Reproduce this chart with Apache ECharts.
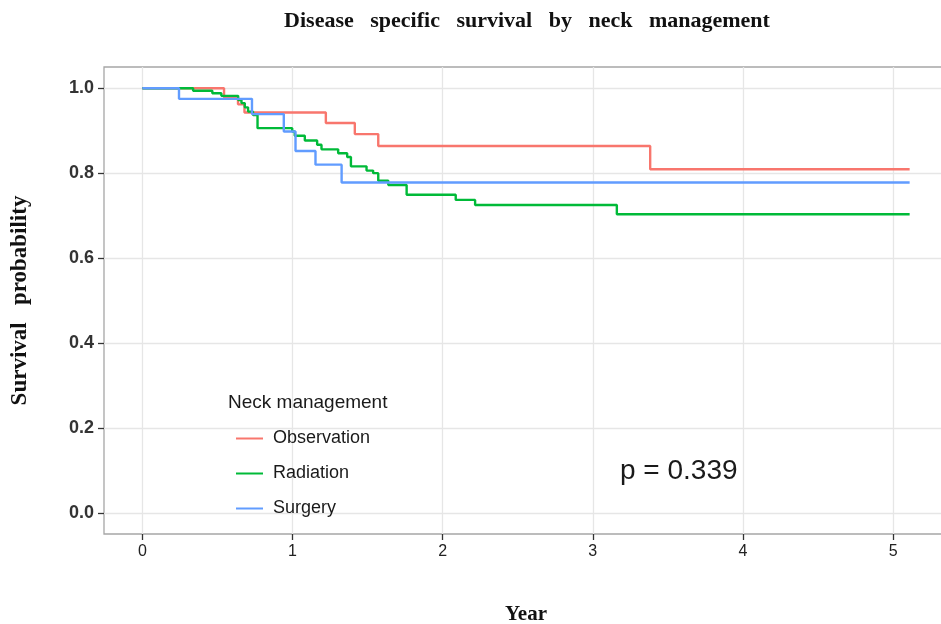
<!DOCTYPE html>
<html>
<head>
    <meta charset="utf-8">
    <style type="text/css">
        *, html, body { margin: 0; padding: 0; }
        html, body, #container { width: 941px; height: 624px; background: #fff; }
    </style>
    <script type="text/javascript" src="https://cdn.jsdelivr.net/npm/echarts@6/dist/echarts.min.js"></script>
</head>
<body>
<div id="container"></div>
<script type="text/javascript">
    // Kaplan-Meier steps (years, survival)
    let groups = ["Observation", "Radiation", "Surgery"];
    let colors = ["#F8766D", "#00BA38", "#619CFF"];

    let obsTime = [0, 0.544, 0.637, 0.68, 1.222, 1.415, 1.571, 3.382, 5.11];
    let obsSurv = [1, 0.978, 0.962, 0.943, 0.918, 0.892, 0.864, 0.809, 0.809];

    let radTime = [0, 0.338, 0.466, 0.526, 0.638, 0.66, 0.682, 0.704, 0.737, 0.767, 0.998, 1.015, 1.082,
        1.164, 1.193, 1.304, 1.364, 1.389, 1.493, 1.537, 1.571, 1.638, 1.76, 2.087, 2.216, 3.16, 5.11];
    let radSurv = [1, 0.994, 0.988, 0.982, 0.972, 0.965, 0.955, 0.945, 0.937, 0.906, 0.898, 0.888, 0.877,
        0.867, 0.856, 0.847, 0.838, 0.816, 0.806, 0.8, 0.782, 0.772, 0.749, 0.737, 0.725, 0.703, 0.703];

    let surTime = [0, 0.244, 0.73, 0.942, 1.02, 1.153, 1.327, 5.11];
    let surSurv = [1, 0.975, 0.939, 0.898, 0.852, 0.82, 0.778, 0.778];

    let xTicks = [0, 1, 2, 3, 4, 5];
    let yTicks = [0, 0.2, 0.4, 0.6, 0.8, 1.0];
    let pText = "p = 0.339";

    function pairs(t, s) {
        return t.map(function (v, i) { return [v, s[i]]; });
    }

    let curves = [pairs(obsTime, obsSurv), pairs(radTime, radSurv), pairs(surTime, surSurv)];

    let myChart = echarts.init(document.getElementById("container"));

    let option = {
        animation: false,
        backgroundColor: "#fff",
        title: {
            text: "Disease   specific   survival   by   neck   management",
            left: 522, top: 5, textAlign: "center",
            textStyle: { fontFamily: "Liberation Serif", fontWeight: "bold", fontSize: 22, color: "#111" }
        },
        grid: {
            left: 104, top: 67, right: -7, bottom: 90,
            outerBoundsMode: "none",
            show: true, borderColor: "#a6a6a6", borderWidth: 1.3, backgroundColor: "#fff"
        },
        legend: {
            orient: "vertical",
            left: 231, top: 423,
            itemWidth: 27, itemHeight: 2, itemGap: 14,
            icon: "rect",
            data: groups,
            textStyle: { fontFamily: "Liberation Sans", fontSize: 18, color: "#1a1a1a", lineHeight: 21, padding: [0, 0, 0, 5] }
        },
        xAxis: {
            type: "value",
            min: -0.2555, max: 5.3655,
            name: "Year", nameLocation: "middle", nameGap: 70,
            nameTextStyle: { fontFamily: "Liberation Serif", fontWeight: "bold", fontSize: 21, color: "#111" },
            axisLine: { show: false, onZero: false },
            axisTick: { show: true, length: 6, customValues: xTicks, lineStyle: { color: "#333", width: 1.3 } },
            axisLabel: {
                customValues: xTicks, margin: 10,
                fontFamily: "Liberation Sans", fontSize: 16, color: "#222"
            },
            splitLine: { show: true, lineStyle: { color: "#e6e6e6", width: 1.3 } }
        },
        yAxis: {
            type: "value",
            min: -0.05, max: 1.05,
            name: "Survival   probability", nameLocation: "middle", nameGap: 72, nameRotate: 90,
            nameTextStyle: { fontFamily: "Liberation Serif", fontWeight: "bold", fontSize: 23, color: "#111" },
            axisLine: { show: false, onZero: false },
            axisTick: { show: true, length: 6, customValues: yTicks, lineStyle: { color: "#333", width: 1.3 } },
            axisLabel: {
                customValues: yTicks, margin: 10,
                fontFamily: "Liberation Sans", fontWeight: "bold", fontSize: 18, color: "#333",
                formatter: function (v) { return v.toFixed(1); }
            },
            splitLine: { show: true, lineStyle: { color: "#e6e6e6", width: 1.3 } }
        },
        graphic: [
            {
                type: "text", left: 228, top: 393,
                style: { text: "Neck management", fontFamily: "Liberation Sans", fontSize: 19, fill: "#1a1a1a" }
            },
            {
                type: "text", left: 620, top: 457,
                style: { text: pText, fontFamily: "Liberation Sans", fontSize: 28, fill: "#1a1a1a" }
            }
        ],
        series: groups.map(function (g, i) {
            return {
                name: g, type: "line", step: "end",
                data: curves[i],
                showSymbol: false, symbol: "none",
                color: colors[i],
                lineStyle: { width: 2.4, color: colors[i] }
            };
        })
    };
    myChart.setOption(option);
</script>
</body>
</html>
